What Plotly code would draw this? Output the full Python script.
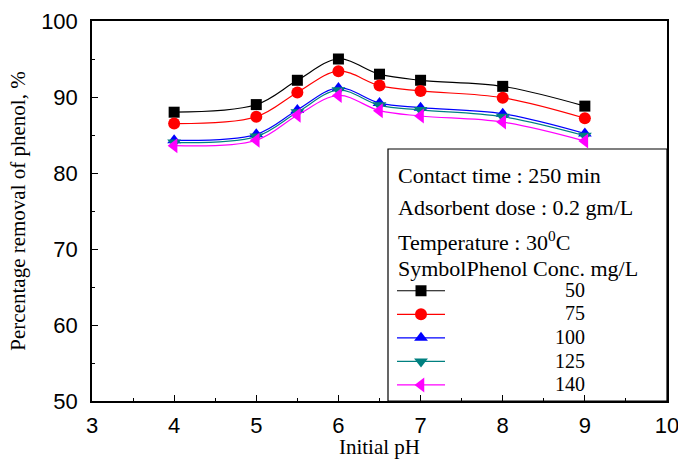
import plotly.graph_objects as go

ph = [4, 5, 5.5, 6, 6.5, 7, 8, 9]
conc_labels = ["50", "75", "100", "125", "140"]
removal_50 = [88.0, 89.0, 92.2, 95.0, 93.0, 92.2, 91.4, 88.8]
removal_75 = [86.5, 87.4, 90.6, 93.4, 91.5, 90.8, 89.9, 87.2]
removal_100 = [84.3, 85.1, 88.3, 91.2, 89.2, 88.6, 87.8, 85.2]
removal_125 = [84.0, 84.8, 88.0, 90.9, 88.9, 88.3, 87.4, 84.9]
removal_140 = [83.6, 84.3, 87.6, 90.2, 88.2, 87.5, 86.7, 84.2]

series = [removal_50, removal_75, removal_100, removal_125, removal_140]
colors = ["#000000", "#FF0000", "#0000FF", "#008080", "#FF00FF"]
symbols = ["square", "circle", "triangle-up", "triangle-down", "triangle-left"]
sizes = [11, 12, 12, 12, 13]
pads = [23, 23, 21, 21, 21]

serif = "Liberation Serif"
sans = "Liberation Sans"

fig = go.Figure()
for vals, lab, col, sym, sz, pad in zip(series, conc_labels, colors, symbols, sizes, pads):
    name = "<span style='font-size:20px'>" + "\u00a0" * pad + lab + "</span>"
    fig.add_trace(go.Scatter(
        x=ph, y=vals, mode="lines+markers", name=name,
        line=dict(color=col, width=1.2, shape="spline"),
        marker=dict(symbol=sym, size=sz, color=col),
    ))

W, H = 678, 459
L, R, T, B = 92, 11, 21, 58
pw, ph_ = W - L - R, H - T - B

def px(xp):
    return (xp - L) / pw

def py(yp):
    return (H - B - yp) / ph_

fig.add_shape(type="rect", xref="paper", yref="paper",
              x0=px(388), x1=1.0, y0=0.0, y1=py(149),
              line=dict(color="black", width=1.2), fillcolor="white", layer="below")

texts = [
    ("Contact time : 250 min", 175),
    ("Adsorbent dose : 0.2 gm/L", 207),
    ("Temperature : 30<sup>0</sup>C", 241),
    ("SymbolPhenol Conc. mg/L", 268),
]
for t, yp in texts:
    fig.add_annotation(text=t, xref="paper", yref="paper", x=px(396), y=py(yp),
                       xanchor="left", yanchor="middle", showarrow=False,
                       font=dict(family=serif, size=22, color="black"))

fig.update_layout(
    width=W, height=H,
    margin=dict(l=L, r=R, t=T, b=B, autoexpand=False),
    paper_bgcolor="white", plot_bgcolor="white",
    showlegend=True,
    legend=dict(x=px(392), y=py(274), xanchor="left", yanchor="top",
                bgcolor="rgba(0,0,0,0)", borderwidth=0,
                font=dict(family=serif, size=15.8, color="black"),
                itemwidth=48, tracegroupgap=0),
    xaxis=dict(
        range=[3, 10], dtick=1, tick0=3, automargin=False,
        showline=True, linecolor="black", linewidth=1.5, mirror=True,
        ticks="inside", ticklen=6, tickwidth=1.2, tickcolor="black",
        minor=dict(ticks="inside", ticklen=3, dtick=0.5, tickcolor="black", tickwidth=1.2),
        showgrid=False, zeroline=False,
        tickfont=dict(family=sans, size=22, color="black"),
        ticklabelstandoff=4, ticklabeloverflow="allow",
        title=dict(text="Initial pH", font=dict(family=serif, size=21, color="black"), standoff=16),
    ),
    yaxis=dict(
        range=[50, 100], dtick=10, automargin=False,
        showline=True, linecolor="black", linewidth=1.5, mirror=True,
        ticks="inside", ticklen=6, tickwidth=1.2, tickcolor="black",
        minor=dict(ticks="inside", ticklen=3, dtick=5, tickcolor="black", tickwidth=1.2),
        showgrid=False, zeroline=False,
        tickfont=dict(family=sans, size=22, color="black"),
        ticklabelstandoff=8, ticklabeloverflow="allow",
        title=dict(text="Percentage removal of phenol, %", font=dict(family=serif, size=21, color="black"), standoff=10),
    ),
)

fig.write_html("out.html", config={"displayModeBar": False},
               post_script="document.body.style.margin='0';document.body.style.overflow='hidden';")
